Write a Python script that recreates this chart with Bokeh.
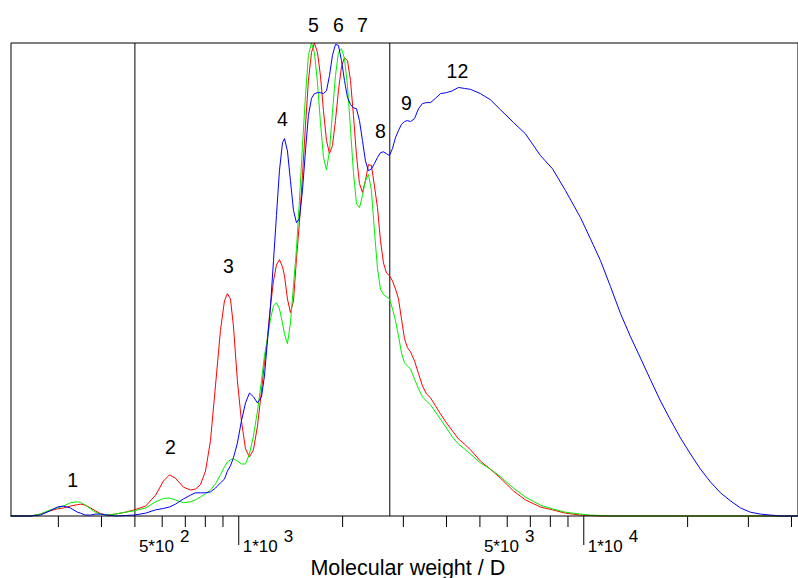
from bokeh.plotting import figure
from bokeh.models import Range1d, BoxAnnotation
from bokeh.core.properties import value
from bokeh.embed import file_html
from bokeh.resources import INLINE

# Molecular weight grid (D)
mw = [218, 249, 266, 284, 298, 310, 325, 341, 348, 359, 372, 384, 397, 416, 439, 469, 498,
      537, 574, 605, 630, 655, 691, 724, 749, 774, 801, 828, 856, 885, 909, 927, 946, 965, 991,
      1018, 1046, 1074, 1103, 1133, 1164, 1187, 1211, 1236, 1261, 1286, 1312, 1339, 1357, 1384,
      1412, 1441, 1470, 1499, 1530, 1561, 1592, 1625, 1657, 1691, 1725, 1760, 1796, 1832, 1869,
      1907, 1945, 1985, 2025, 2066, 2108, 2150, 2194, 2238, 2283, 2329, 2376, 2424, 2473, 2524,
      2575, 2627, 2680, 2734, 2790, 2846, 2904, 2962, 3022, 3083, 3146, 3231, 3319, 3408, 3501,
      3595, 3717, 3842, 3999, 4163, 4333, 4510, 4696, 5019, 5364, 5736, 6255, 6776, 7490, 8117,
      8851, 9782, 10457, 11180, 11953, 12779, 13660, 14600, 15610, 16689, 17838, 19068, 20385,
      21793, 23289, 24905, 26622, 28464, 30423, 32527, 34770, 37165, 41640]

red = [0, 0, 0.4, 1.1, 1.5, 1.7, 2.1, 2.4, 2.5, 2.3, 1.7, 1.1, 0.5, 0.2, 0.4, 0.8, 1.3,
       2.1, 4.4, 7.4, 8.7, 8.0, 6.1, 5.5, 5.7, 6.6, 9.5, 15.9, 27.5, 39.2, 45.5, 47.0, 45.9, 40.2, 28.6,
       20.1, 14.2, 12.5, 14.0, 19.0, 26.5, 32.4, 37.7, 44.4, 49.7, 53.1, 54.2, 52.7, 50.8, 45.9,
       43.0, 45.5, 54.4, 62.0, 72.0, 82.5, 92.1, 98.0, 100, 98.0, 93.1, 85.7, 79.4, 76.6, 78.3,
       83.6, 89.9, 95.0, 96.9, 96.3, 92.1, 84.7, 76.2, 70.3, 68.4, 70.9, 74.3, 74.1, 69.8, 65.2,
       58.2, 53.5, 51.4, 50.8, 49.7, 48.0, 45.9, 41.7, 37.5, 35.6, 34.7, 32.8, 30.1, 27.5, 25.8,
       25.0, 23.3, 21.6, 19.7, 18.0, 16.3, 15.2, 14.0, 11.6, 9.9, 8.0, 5.3, 3.4, 1.9, 1.3,
       0.6, 0.2, 0.1, 0, 0, 0, 0, 0, 0, 0, 0, 0, 0,
       0, 0, 0, 0, 0, 0, 0, 0, 0, 0]

green = [0, 0, 0.4, 1.3, 1.7, 2.1, 2.8, 3.0, 2.9, 2.3, 1.5, 0.8, 0.4, 0.2, 0.4, 0.8, 1.1,
         1.7, 3.0, 3.7, 3.8, 3.4, 2.8, 3.0, 3.4, 4.0, 4.7, 5.5, 6.8, 8.7, 10.4, 11.4, 11.9, 12.1, 11.6,
         11.0, 11.0, 13.1, 16.9, 22.2, 28.6, 33.9, 37.5, 41.7, 44.4, 45.1, 43.8, 40.8, 38.5, 36.4,
         40.8, 48.7, 56.5, 66.7, 78.3, 88.9, 97.4, 100, 98.0, 91.6, 83.2, 75.8, 73.2, 77.2, 85.3,
         93.1, 98.0, 98.8, 96.7, 91.0, 81.9, 72.6, 66.0, 65.2, 67.7, 70.9, 72.2, 68.8, 60.3, 52.3,
         48.0, 46.8, 46.3, 45.9, 43.8, 41.3, 38.1, 34.5, 32.4, 31.7, 31.1, 29.0, 26.9, 25.2, 24.3,
         23.5, 22.0, 20.5, 18.6, 16.7, 15.2, 14.2, 13.1, 11.2, 9.9, 8.3, 5.9, 4.0, 2.3, 1.5,
         0.8, 0.4, 0.2, 0.1, 0, 0, 0, 0, 0, 0, 0, 0, 0,
         0, 0, 0, 0, 0, 0, 0, 0, 0, 0]

blue = [0, 0, 0.2, 1.1, 1.9, 2.1, 1.7, 0.8, 0.6, 0.2, 0.2, 0.4, 0.4, 0.2, 0, 0.1, 0.2,
        0.6, 1.3, 1.6, 1.9, 2.5, 3.6, 4.4, 4.9, 4.9, 4.9, 5.1, 5.9, 7.0, 7.8, 9.5, 10.6, 12.3, 15.4,
        20.1, 23.9, 26.0, 25.2, 23.9, 25.2, 29.6, 37.0, 44.4, 54.0, 63.5, 73.0, 78.9, 79.8, 77.2,
        70.9, 64.6, 62.0, 62.9, 68.8, 77.2, 84.7, 88.3, 89.3, 89.5, 89.5, 89.3, 89.9, 93.1, 97.4,
        99.7, 99.5, 96.3, 92.1, 88.5, 87.0, 86.3, 86.1, 83.6, 79.4, 75.1, 73.0, 73.4, 74.5, 75.8,
        76.8, 77.0, 76.6, 76.2, 77.7, 80.0, 81.5, 82.8, 83.4, 83.6, 83.4, 84.0, 86.1, 87.2, 87.4,
        87.4, 88.3, 89.3, 89.5, 89.9, 90.6, 90.4, 90.2, 89.3, 88.0, 85.9, 83.2, 80.8, 76.2, 73.4,
        68.8, 63.1, 58.6, 54.0, 48.5, 42.8, 37.9, 33.4, 28.8, 24.3, 20.3, 16.5, 13.1,
        9.9, 7.2, 4.9, 3.2, 1.7, 0.8, 0.4, 0.2, 0, 0]

peak_names = ["1", "2", "3", "4", "5", "6", "7", "8", "9", "12"]
peak_mw = [330, 634, 933, 1339, 1646, 1945, 2284, 2575, 3063, 4304]
peak_y = [7.6, 14.6, 52.9, 84.0, 103.7, 103.7, 103.7, 81.3, 87.4, 94.0]

tick_mw = [500, 1000, 5000, 10000]
tick_base = ["5*10", "1*10", "5*10", "1*10"]
tick_exp = ["2", "3", "3", "4"]
major_ticks = [1000, 10000]
minor_ticks = [300, 400, 500, 600, 700, 800, 900, 2000, 3000, 4000, 5000, 6000, 7000,
               8000, 9000, 20000, 30000, 40000]
divider_mw = [500, 2740]
x_title = "Molecular weight / D"

# plot box (data limits)
X_MIN, X_MAX = 218.7, 41778
Y_MIN, Y_MAX = 0, 100
PX_PER_UNIT = 4.73  # screen pixels per intensity unit

FONT = "Liberation Sans"

p = figure(width=798, height=578, x_axis_type="log",
           x_range=Range1d(203.9, 41918), y_range=Range1d(-62.5 / PX_PER_UNIT, 515.5 / PX_PER_UNIT),
           output_backend="svg", toolbar_location=None,
           min_border_left=0, min_border_right=0, min_border_top=0, min_border_bottom=0)
p.grid.visible = False
p.xaxis.visible = False
p.yaxis.visible = False
p.outline_line_color = None
p.background_fill_color = "white"
p.border_fill_color = "white"

# frame box
p.add_layout(BoxAnnotation(left=X_MIN, right=X_MAX, bottom=Y_MIN, top=Y_MAX,
                           fill_alpha=0, line_color="black", line_alpha=1.0, line_width=1))

# divider lines
p.segment(x0=divider_mw, y0=[Y_MIN] * len(divider_mw), x1=divider_mw,
          y1=[Y_MAX] * len(divider_mw), line_color="black", line_width=1)

# ticks (minor short, major long)
MINOR_LEN = 11 / PX_PER_UNIT
MAJOR_LEN = 29 / PX_PER_UNIT
p.segment(x0=minor_ticks, y0=[0] * len(minor_ticks), x1=minor_ticks,
          y1=[-MINOR_LEN] * len(minor_ticks), line_color="black", line_width=1)
p.segment(x0=major_ticks, y0=[0] * len(major_ticks), x1=major_ticks,
          y1=[-MAJOR_LEN] * len(major_ticks), line_color="black", line_width=1)

# curves
p.line(mw, red, line_color="#ff0000", line_width=1)
p.line(mw, green, line_color="#00ee00", line_width=1)
p.line(mw, blue, line_color="#0000ff", line_width=1)

# peak labels
p.text(x=peak_mw, y=peak_y, text=peak_names, text_align="center", text_baseline="middle",
       text_font=value(FONT), text_font_size="19.5px", text_color="black")

# tick labels with superscript exponents
p.text(x=tick_mw, y=[-30.5 / PX_PER_UNIT] * len(tick_mw), text=tick_base, x_offset=4,
       text_align="left", text_baseline="middle", text_font=value(FONT),
       text_font_size="17px", text_color="black")
p.text(x=tick_mw, y=[-20 / PX_PER_UNIT] * len(tick_mw), text=tick_exp, x_offset=45,
       text_align="left", text_baseline="middle", text_font=value(FONT),
       text_font_size="17px", text_color="black")

# axis title
p.text(x=[3091], y=[-51.5 / PX_PER_UNIT], text=[x_title], text_align="center",
       text_baseline="middle", text_font=value(FONT), text_font_size="21.5px",
       text_color="black")

open("out.html", "w").write(file_html(p, INLINE))
